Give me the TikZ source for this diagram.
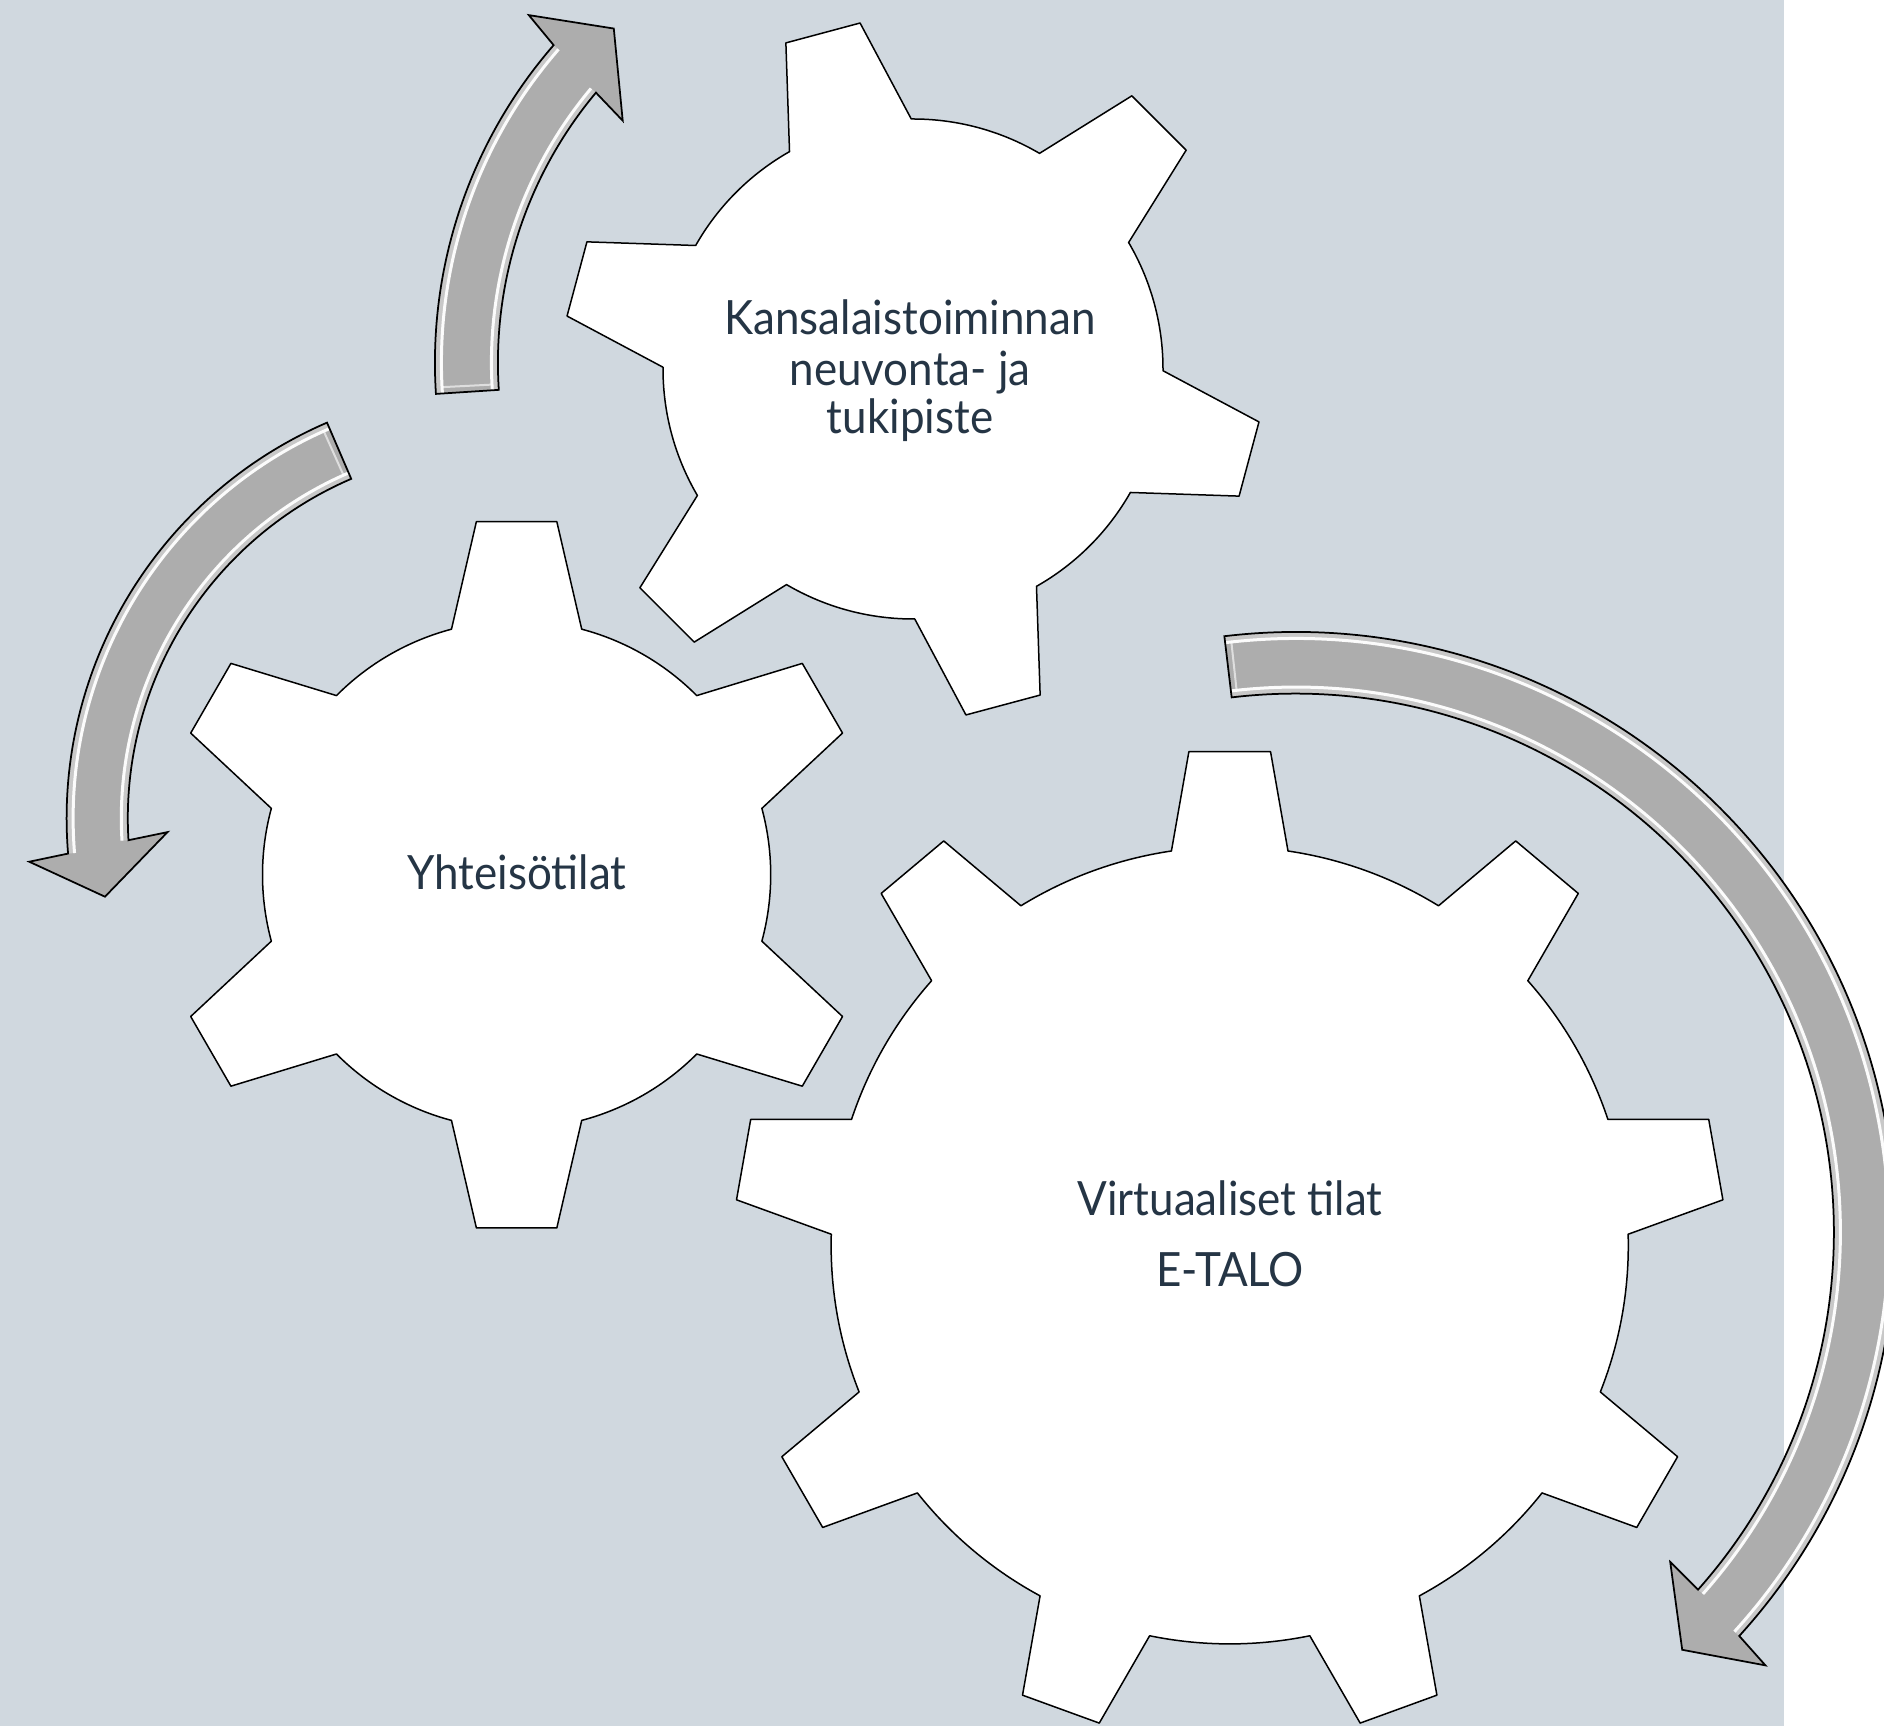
\documentclass[tikz,border=0pt]{standalone}
\usepackage{fontspec}
\setmainfont{Lato}[FakeStretch=0.93]
\usetikzlibrary{calc}
\definecolor{bgc}{HTML}{D0D8DF}
\definecolor{txt}{HTML}{253545}
\definecolor{arrgray}{HTML}{ADADAD}
\definecolor{arredge}{HTML}{C8C8C8}

\tikzset{
  gearbody/.style={fill=white, draw=black, line width=0.6pt, line join=round},
  arrline/.style={draw=black, line width=0.7pt, line join=miter},
  lbl/.style={text=txt, inner sep=0pt, anchor=base, font=\fontsize{18.9}{20}\selectfont}
}

% #1 centre, #2 teeth, #3 phase, #4 outer radius, #5 outer half-angle, #6 body radius, #7 base half-angle
\newcommand{\gearshape}[7]{%
  \pgfmathsetmacro{\gwStep}{360/#2}%
  \pgfmathsetmacro{\gwHalf}{180/#2}%
  \pgfmathtruncatemacro{\gwLast}{#2-1}%
  \filldraw[gearbody, shift={(#1)}] ({#3-\gwHalf}:#6)
    \foreach \k in {0,...,\gwLast}{
      arc[start angle={#3+\k*\gwStep-\gwHalf}, end angle={#3+\k*\gwStep-#7}, radius=#6]
      -- ({#3+\k*\gwStep-#5}:#4) -- ({#3+\k*\gwStep+#5}:#4) -- ({#3+\k*\gwStep+#7}:#6)
      arc[start angle={#3+\k*\gwStep+#7}, end angle={#3+\k*\gwStep+\gwHalf}, radius=#6]
    } -- cycle;}

% #1 centre, #2 R, #3 half width, #4 tail angle, #5 outer notch, #6 inner notch,
% #7 outer barb, #8 inner barb, #9 tip angle
\newcommand{\curvedarrow}[9]{%
  \pgfmathsetmacro{\cwRo}{#2+#3}\pgfmathsetmacro{\cwRi}{#2-#3}%
  \pgfmathsetmacro{\cwBo}{#2+70}\pgfmathsetmacro{\cwBi}{#2-70}%
  \pgfmathsetmacro{\cwEo}{#2+#3-3.5}\pgfmathsetmacro{\cwEi}{#2-#3+3.5}%
  \pgfmathsetmacro{\cwHo}{#2+#3-6.5}\pgfmathsetmacro{\cwHi}{#2-#3+6.5}%
  \pgfmathsetmacro{\cwTa}{#4+(6/#2)*57.3*sign(#5-#4)}%
  \begin{scope}[shift={(#1)}]
    \fill[arrgray] (#4:\cwRo) arc[start angle=#4, end angle=#5, radius=\cwRo]
      -- (#7:\cwBo) -- (#9:#2) -- (#8:\cwBi) -- (#6:\cwRi)
      arc[start angle=#6, end angle=#4, radius=\cwRi] -- cycle;
    \draw[arredge, line width=2.8pt] (#4:\cwEo) arc[start angle=#4, end angle=#5, radius=\cwEo];
    \draw[arredge, line width=2.8pt] (#4:\cwEi) arc[start angle=#4, end angle=#6, radius=\cwEi];
    \draw[white, opacity=0.95, line width=1.2pt] (#4:\cwHo) arc[start angle=#4, end angle=#5, radius=\cwHo];
    \draw[white, opacity=0.95, line width=1.2pt] (#4:\cwHi) arc[start angle=#4, end angle=#6, radius=\cwHi];
    \draw[white, opacity=0.6, line width=0.8pt] (\cwTa:\cwHi) -- (\cwTa:\cwHo);
    \draw[arrline] (#4:\cwRo) arc[start angle=#4, end angle=#5, radius=\cwRo]
      -- (#7:\cwBo) -- (#9:#2) -- (#8:\cwBi) -- (#6:\cwRi)
      arc[start angle=#6, end angle=#4, radius=\cwRi] -- cycle;
  \end{scope}}

\begin{document}
\begin{tikzpicture}[x=0.4pt, y=0.4pt]
  \useasboundingbox (0,0) rectangle (1884,1726);
  \clip (0,0) rectangle (1884,1726);
  \fill[white] (0,0) rectangle (1884,1726);
  \fill[bgc] (0,0) rectangle (1784,1726);

  % gear centres
  \coordinate (g1c) at (913,1357);
  \coordinate (g2c) at (516.6,851.2);
  \coordinate (g3c) at (1229.7,480.7);
  % arrow centres
  \coordinate (aAc) at (918.9,1363.3);
  \coordinate (aBc) at (497.4,907.7);
  \coordinate (aCc) at (1295.4,493.9);

  % gears
  \gearshape{g1c}{6}{105}{350}{6.3}{250}{14.6}
  \gearshape{g2c}{6}{90}{355.4}{6.5}{254.1}{14.85}
  \gearshape{g3c}{9}{10}{495.3}{4.73}{398.6}{8.41}

  % curved arrows
  \curvedarrow{aAc}{452.5}{31.5}{183.7}{139.0}{140.1}{138.3}{140.75}{132.4}
  \curvedarrow{aBc}{400.2}{30.6}{113.3}{184.7}{183.4}{185.3}{182.4}{191.3}
  \curvedarrow{aCc}{569.3}{30.8}{96.8}{-42.3}{-41.6}{-42.67}{-41.35}{-47.2}

  % labels
  \node[lbl] (k1) at (910,1391) {Kansalaistoiminnan};
  \node[lbl] (k2) at (910,1340) {neuvonta- ja};
  \node[lbl] (k3) at (910,1292) {tukipiste};
  \node[lbl] (y1) at (517,836) {Yhteisötilat};
  \node[lbl] (v1) at (1230,510.3) {Virtuaaliset tilat};
  \node[lbl] (v2) at (1230,439.3) {E-TALO};
\end{tikzpicture}
\end{document}
